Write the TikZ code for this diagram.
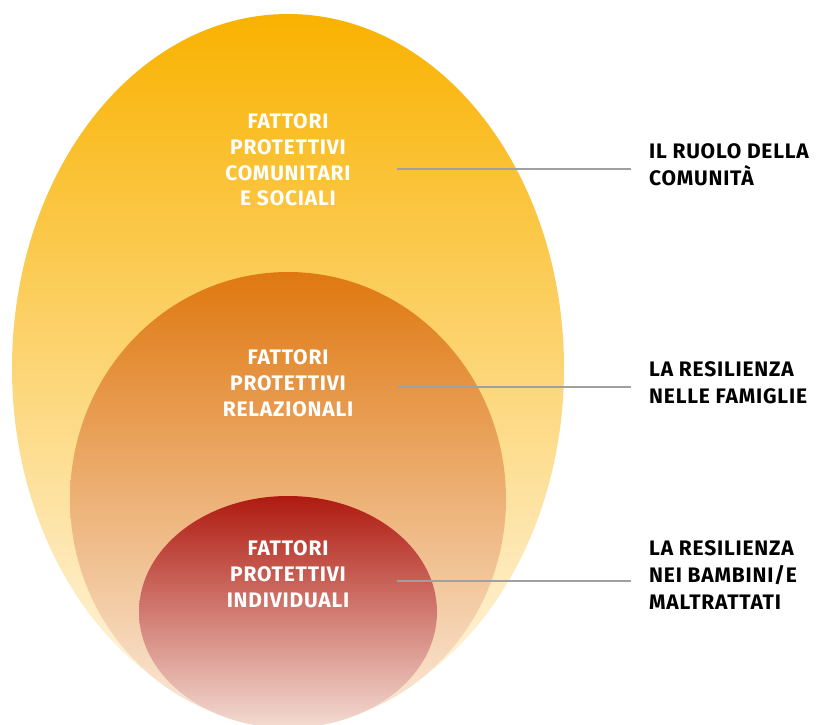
\documentclass[tikz,border=0pt]{standalone}
\usepackage{fontspec}
\setmainfont{Fira Sans}
\newfontfamily\labelfont[LetterSpace=3.8]{Fira Sans}
\usepackage{xcolor}
\usetikzlibrary{positioning}

\definecolor{outerTop}{HTML}{F9B200}
\definecolor{outerBot}{HTML}{FFF8EA}
\definecolor{midTop}{HTML}{DF7810}
\definecolor{midBot}{HTML}{FBEBDD}
\definecolor{innTop}{HTML}{AF1A10}
\definecolor{innBot}{HTML}{F3DCD2}
\definecolor{linkgray}{HTML}{A0A0A0}

\begin{document}
\begin{tikzpicture}[
  x=1pt, y=-1pt,
  inlabel/.style={align=center, text=white, font=\labelfont\fontsize{21}{25.8}\selectfont\bfseries, inner sep=0pt},
  outlabel/.style={align=left, anchor=west, text=black, font=\labelfont\fontsize{21}{27}\selectfont\bfseries, inner sep=0pt},
  link/.style={draw=linkgray, line width=2.8pt}
]
  \useasboundingbox (0,0) rectangle (816,725);
  % the three nested ellipses
  \shade[top color=outerTop, bottom color=outerBot] (288,368) ellipse [x radius=276, y radius=354];
  \shade[top color=midTop, bottom color=midBot] (288,499) ellipse [x radius=218, y radius=227];
  \shade[top color=innTop, bottom color=innBot] (288,612) ellipse [x radius=149, y radius=116];

  \node[inlabel] (comm) at (288,160) {FATTORI\\PROTETTIVI\\COMUNITARI\\E SOCIALI};
  \node[inlabel] (rel) at (288,383) {FATTORI\\PROTETTIVI\\RELAZIONALI};
  \node[inlabel] (ind) at (288,574) {FATTORI\\PROTETTIVI\\INDIVIDUALI};

  \node[outlabel] (ruolo) at (649,165) {IL RUOLO DELLA\\COMUNITÀ};
  \node[outlabel] (fam) at (649,383) {LA RESILIENZA\\NELLE FAMIGLIE};
  \node[outlabel] (bamb) at (649,575) {LA RESILIENZA\\NEI BAMBINI/E\\MALTRATTATI};

  \coordinate (s1) at (397,169);
  \coordinate (e1) at (631,169);
  \coordinate (s2) at (397,387);
  \coordinate (e2) at (631,387);
  \coordinate (s3) at (397,581);
  \coordinate (e3) at (631,581);
  \draw[link] (s1) -- (e1);
  \draw[link] (s2) -- (e2);
  \draw[link] (s3) -- (e3);
\end{tikzpicture}
\end{document}
